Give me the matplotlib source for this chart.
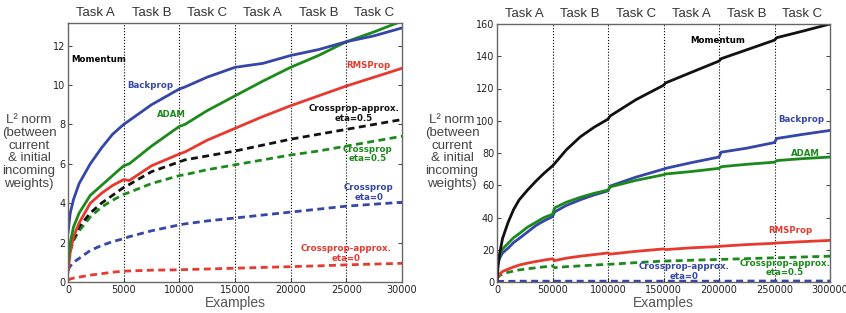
'''L2 norm of incoming weights over examples, two task sequences'''
import matplotlib
matplotlib.use('Agg')
import matplotlib.pyplot as plt
from matplotlib import rcParams
params = {'font.family': 'DejaVu Sans', 'font.size': 7}
rcParams.update(params)

# ---- left panel data (examples 0..30000) ----
lx = [0, 200, 500, 1000, 2000, 3000, 4000, 5000, 5500, 7500, 10000, 10500,
      12500, 15000, 17500, 20000, 22500, 25000, 27500, 30000]
l_backprop = [2.5, 3.5, 4.2, 5.0, 6.0, 6.8, 7.5, 8.0, 8.2, 9.0, 9.8, 9.9,
              10.4, 10.9, 11.1, 11.5, 11.8, 12.2, 12.5, 12.9]
l_adam = [1.0, 2.0, 2.8, 3.5, 4.4, 4.9, 5.4, 5.9, 6.0, 6.9, 7.9, 8.0,
          8.7, 9.45, 10.2, 10.9, 11.5, 12.2, 12.7, 13.25]
l_rmsprop = [0.5, 1.5, 2.3, 3.0, 4.0, 4.5, 4.9, 5.2, 5.15, 5.9, 6.5, 6.6,
             7.2, 7.8, 8.4, 8.95, 9.45, 9.95, 10.4, 10.85]
l_cpa05 = [1.0, 1.6, 2.2, 2.8, 3.5, 4.0, 4.4, 4.8, 4.95, 5.6, 6.1, 6.2,
           6.4, 6.65, 6.95, 7.25, 7.5, 7.75, 8.0, 8.25]
l_cp05 = [1.0, 1.6, 2.1, 2.6, 3.3, 3.8, 4.15, 4.45, 4.55, 5.0, 5.4, 5.45,
          5.7, 5.95, 6.2, 6.45, 6.65, 6.9, 7.15, 7.4]
l_cp0 = [0.6, 0.8, 1.0, 1.2, 1.6, 1.85, 2.05, 2.2, 2.3, 2.6, 2.9, 2.95,
         3.1, 3.25, 3.4, 3.55, 3.7, 3.85, 3.95, 4.05]
l_cpa0 = [0.1, 0.15, 0.2, 0.25, 0.35, 0.42, 0.5, 0.55, 0.56, 0.6, 0.62, 0.63,
          0.66, 0.7, 0.74, 0.78, 0.82, 0.87, 0.91, 0.95]

# ---- right panel data (examples 0..300000) ----
rx = [0, 1000, 2500, 5000, 10000, 15000, 20000, 27500, 35000, 42500, 50000,
      52000, 62500, 75000, 87500, 100000, 102000, 125000, 150000, 152000,
      175000, 200000, 202000, 225000, 250000, 252000, 275000, 300000]
r_momentum = [0, 10, 18, 27, 37, 45, 51, 57, 62.5, 67.5, 72,
              73.5, 82, 90, 96, 101, 103, 113, 122, 123.5,
              130, 137, 138.5, 144, 150, 151.5, 155.5, 160]
r_backprop = [8, 12, 15, 18, 21, 24.5, 27, 31, 35, 38, 40.5,
              43.5, 47.5, 51, 54, 56.5, 59.5, 65, 70, 70.5,
              74, 77.5, 80.5, 83, 86.5, 89, 91.5, 94]
r_adam = [10, 14, 17, 20.5, 24, 27.5, 30, 34, 37, 40, 42,
          46, 49.5, 52.5, 55, 57, 59, 63, 66.5, 67,
          68.5, 70.5, 71.5, 73, 74.3, 75.3, 76.5, 77.5]
r_rmsprop = [1, 3.5, 5, 6.5, 8, 9.3, 10.5, 11.7, 12.7, 13.6, 14.4,
             13.3, 14.8, 16, 17, 18, 17.3, 19, 20.5, 20.1,
             21.2, 22, 22.2, 23.2, 24, 24.2, 25, 25.8]
r_cpa05 = [2, 3, 4, 5, 6, 6.8, 7.5, 8.2, 8.8, 9.4, 10,
           8.9, 9.5, 10, 10.5, 11, 11, 12, 13, 13,
           13.5, 14, 14, 14.5, 15, 15, 15.5, 16]
r_cpa0 = [0.3, 0.35, 0.4, 0.4, 0.4, 0.45, 0.5, 0.5, 0.5, 0.5, 0.5,
          0.5, 0.5, 0.5, 0.5, 0.5, 0.5, 0.5, 0.5, 0.5,
          0.5, 0.5, 0.5, 0.6, 0.6, 0.6, 0.6, 0.6]

tasks = ['Task A', 'Task B', 'Task C', 'Task A', 'Task B', 'Task C']
ylab = 'L\u00b2 norm\n(between\ncurrent\n& initial\nincoming\nweights)'

blue = '#3546a8'
green = '#1b8a1b'
red = '#e8392e'
black = '#111111'
dash = (0, (2.5, 1.6))
lw = 2

fig = plt.figure(figsize=(8.46, 3.13), dpi=100)
ax1 = fig.add_axes([68 / 846, 31 / 313, 334 / 846, 259 / 313])
ax2 = fig.add_axes([497 / 846, 31 / 313, 333 / 846, 258 / 313])


def style(ax, xmax, ymax, yticks):
    step = xmax / 6
    ax.set_xlim(0, xmax)
    ax.set_ylim(0, ymax)
    ax.set_xticks([step * i for i in range(7)])
    ax.set_xticklabels([str(int(step * i)) for i in range(7)])
    ax.set_yticks(yticks)
    ax.tick_params(direction='in', length=3, width=0.6, top=False, right=True,
                   labelsize=7, pad=2, colors='#222222')
    for s in ax.spines.values():
        s.set_color('#666666')
        s.set_linewidth(1)
    for i in range(1, 6):
        ax.axvline(step * i, color='black', linestyle=':', linewidth=0.8)
    for i, t in enumerate(tasks):
        ax.text(step * (i + 0.5), ymax * 1.015, t, ha='center', va='bottom',
                fontsize=9.5, color='#333333', family='Liberation Sans')
    ax.set_xlabel('Examples', fontsize=10, color='#555555', labelpad=1,
                  family='Liberation Sans')


# left panel
style(ax1, 30000, 13.15, range(0, 13, 2))
ax1.plot(lx, l_cpa0, color=red, linestyle=dash, lw=lw)
ax1.plot(lx, l_cp0, color=blue, linestyle=dash, lw=lw)
ax1.plot(lx, l_cp05, color=green, linestyle=dash, lw=lw)
ax1.plot(lx, l_cpa05, color=black, linestyle=dash, lw=lw)
ax1.plot(lx, l_rmsprop, color=red, lw=lw)
ax1.plot(lx, l_adam, color=green, lw=lw)
ax1.plot(lx, l_backprop, color=blue, lw=lw)

fs = 6.2
ax1.text(300, 11.3, 'Momentum', color='black', fontsize=fs, weight='bold', va='center')
ax1.text(7400, 10.0, 'Backprop', color=blue, fontsize=fs, weight='bold', ha='center', va='center')
ax1.text(9300, 8.5, 'ADAM', color=green, fontsize=fs, weight='bold', ha='center', va='center')
ax1.text(27000, 11.0, 'RMSProp', color=red, fontsize=fs, weight='bold', ha='center', va='center')
ax1.text(25700, 8.55, 'Crossprop-approx.\neta=0.5', color=black, fontsize=fs, weight='bold',
         ha='center', va='center', linespacing=1.05)
ax1.text(26900, 6.5, 'Crossprop\neta=0.5', color=green, fontsize=fs, weight='bold',
         ha='center', va='center', linespacing=1.05)
ax1.text(27000, 4.55, 'Crossprop\neta=0', color=blue, fontsize=fs, weight='bold',
         ha='center', va='center', linespacing=1.05)
ax1.text(25000, 1.45, 'Crossprop-approx.\neta=0', color=red, fontsize=fs, weight='bold',
         ha='center', va='center', linespacing=1.05)

# right panel
style(ax2, 300000, 160, range(0, 161, 20))
ax2.plot(rx, r_cpa0, color=blue, linestyle=dash, lw=lw)
ax2.plot(rx, r_cpa05, color=green, linestyle=dash, lw=lw)
ax2.plot(rx, r_rmsprop, color=red, lw=lw)
ax2.plot(rx, r_backprop, color=blue, lw=lw)
ax2.plot(rx, r_adam, color=green, lw=lw)
ax2.plot(rx, r_momentum, color=black, lw=lw)

ax2.text(199000, 149.5, 'Momentum', color='black', fontsize=fs, weight='bold', ha='center', va='center')
ax2.text(274000, 101, 'Backprop', color=blue, fontsize=fs, weight='bold', ha='center', va='center')
ax2.text(277500, 80, 'ADAM', color=green, fontsize=fs, weight='bold', ha='center', va='center')
ax2.text(264000, 32, 'RMSProp', color=red, fontsize=fs, weight='bold', ha='center', va='center')
ax2.text(168500, 6.5, 'Crossprop-approx.\neta=0', color=blue, fontsize=fs, weight='bold',
         ha='center', va='center', linespacing=1.05)
ax2.text(259500, 8.5, 'Crossprop-approx.\neta=0.5', color=green, fontsize=fs, weight='bold',
         ha='center', va='center', linespacing=1.05)

# y labels drawn as horizontal figure text
fig.text(29 / 846, 1 - 152 / 313, ylab, ha='center', va='center', fontsize=9.5,
         color='#444444', linespacing=1.1, family='Liberation Sans')
fig.text(452 / 846, 1 - 152 / 313, ylab, ha='center', va='center', fontsize=9.5,
         color='#444444', linespacing=1.1, family='Liberation Sans')

plt.savefig('out.png', dpi=100)
